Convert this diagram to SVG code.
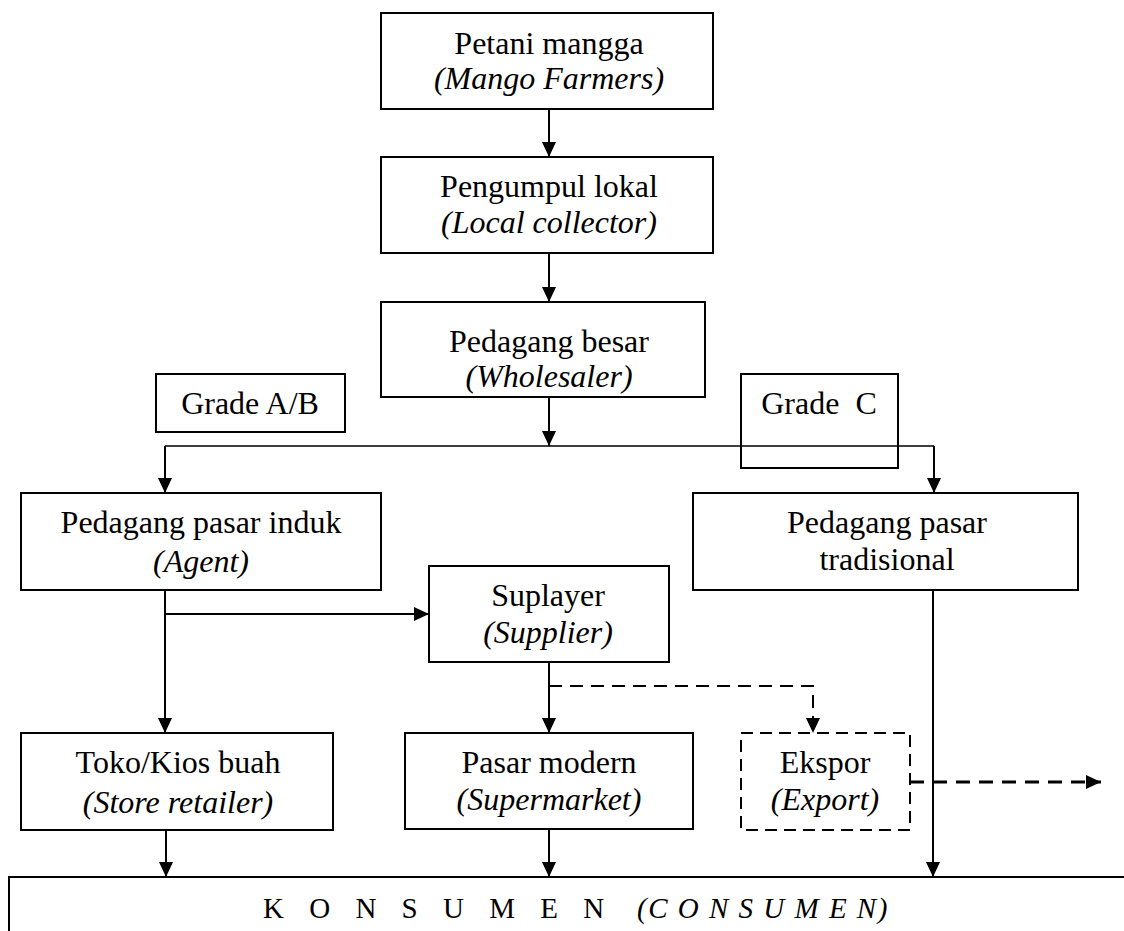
<svg xmlns="http://www.w3.org/2000/svg" width="1124" height="931" viewBox="0 0 1124 931" font-family="'Liberation Serif', 'Times New Roman', serif">
<style>
.box{fill:none;stroke:#000;stroke-width:2}
.dbox{fill:none;stroke:#000;stroke-width:2;stroke-dasharray:12 7}
.t{font-size:32px;fill:#000;text-anchor:middle}
.i{font-style:italic}
.ln{fill:none;stroke:#000;stroke-width:2}
.thin{fill:none;stroke:#000;stroke-width:1.5}
.dl{fill:none;stroke:#000;stroke-width:2;stroke-dasharray:13 8}
.dlb{fill:none;stroke:#000;stroke-width:3;stroke-dasharray:14 9}
</style>
<defs>
<marker id="ah" markerUnits="userSpaceOnUse" viewBox="0 0 15 14" refX="15" refY="7" markerWidth="15" markerHeight="14" orient="auto">
<path d="M0,0 L15,7 L0,14 Z" fill="#000" stroke="none"/>
</marker>
</defs>
<rect width="1124" height="931" fill="#fff"/>

<g id="n-petani">
<rect class="box" x="381" y="13" width="332" height="96"/>
<text class="t" x="549" y="54">Petani mangga</text>
<text class="t i" x="549" y="89">(Mango Farmers)</text>
</g>
<g id="n-pengumpul">
<rect class="box" x="381" y="157" width="332" height="96"/>
<text class="t" x="549" y="197">Pengumpul lokal</text>
<text class="t i" x="549" y="233">(Local collector)</text>
</g>
<g id="n-besar">
<rect class="box" x="381" y="302" width="324" height="95"/>
<text class="t" x="549" y="352">Pedagang besar</text>
<text class="t i" x="549" y="387">(Wholesaler)</text>
</g>
<g id="n-gradeab">
<rect class="box" x="156" y="374" width="189" height="58"/>
<text class="t" x="250" y="414">Grade A/B</text>
</g>
<g id="n-gradec">
<rect class="box" x="741" y="374" width="157" height="94"/>
<text class="t" x="819" y="414" xml:space="preserve">Grade  C</text>
</g>
<g id="n-induk">
<rect class="box" x="21" y="493" width="360" height="97"/>
<text class="t" x="201" y="533">Pedagang pasar induk</text>
<text class="t i" x="201" y="572">(Agent)</text>
</g>
<g id="n-tradisional">
<rect class="box" x="693" y="493" width="385" height="97"/>
<text class="t" x="887" y="533">Pedagang pasar</text>
<text class="t" x="887" y="570">tradisional</text>
</g>
<g id="n-suplayer">
<rect class="box" x="429" y="566" width="240" height="96"/>
<text class="t" x="548" y="606">Suplayer</text>
<text class="t i" x="548" y="643">(Supplier)</text>
</g>
<g id="n-toko">
<rect class="box" x="21" y="733" width="312" height="97"/>
<text class="t" x="178" y="773">Toko/Kios buah</text>
<text class="t i" x="178" y="813">(Store retailer)</text>
</g>
<g id="n-modern">
<rect class="box" x="405" y="733" width="288" height="96"/>
<text class="t" x="549" y="773">Pasar modern</text>
<text class="t i" x="549" y="810">(Supermarket)</text>
</g>
<g id="n-ekspor">
<rect class="dbox" x="741" y="733" width="169" height="97"/>
<text class="t" x="825" y="773">Ekspor</text>
<text class="t i" x="825" y="810">(Export)</text>
</g>
<g id="n-konsumen">
<rect class="box" x="9" y="877" width="1140" height="80"/>
<text font-size="29" fill="#000" x="263" y="918"><tspan letter-spacing="9">K O N S U M E N</tspan><tspan x="637" font-style="italic" letter-spacing="1.5">(C O N S U M E N)</tspan></text>
</g>

<g id="connectors">
<path class="ln" d="M549,109 V157" marker-end="url(#ah)"/>
<path class="ln" d="M549,253 V302" marker-end="url(#ah)"/>
<path class="ln" d="M549,397 V446" marker-end="url(#ah)"/>
<path class="thin" d="M165,446 H934"/>
<path class="ln" d="M165,446 V493" marker-end="url(#ah)"/>
<path class="ln" d="M934,446 V493" marker-end="url(#ah)"/>
<path class="ln" d="M165,590 V733" marker-end="url(#ah)"/>
<path class="ln" d="M165,614 H429" marker-end="url(#ah)"/>
<path class="ln" d="M549,662 V733" marker-end="url(#ah)"/>
<path class="dl" d="M549,686 H813 V733" marker-end="url(#ah)"/>
<path class="ln" d="M933,590 V877" marker-end="url(#ah)"/>
<path class="dlb" d="M910,782 H1101" marker-end="url(#ah)"/>
<path class="ln" d="M166,830 V877" marker-end="url(#ah)"/>
<path class="ln" d="M549,829 V877" marker-end="url(#ah)"/>
</g>
</svg>
